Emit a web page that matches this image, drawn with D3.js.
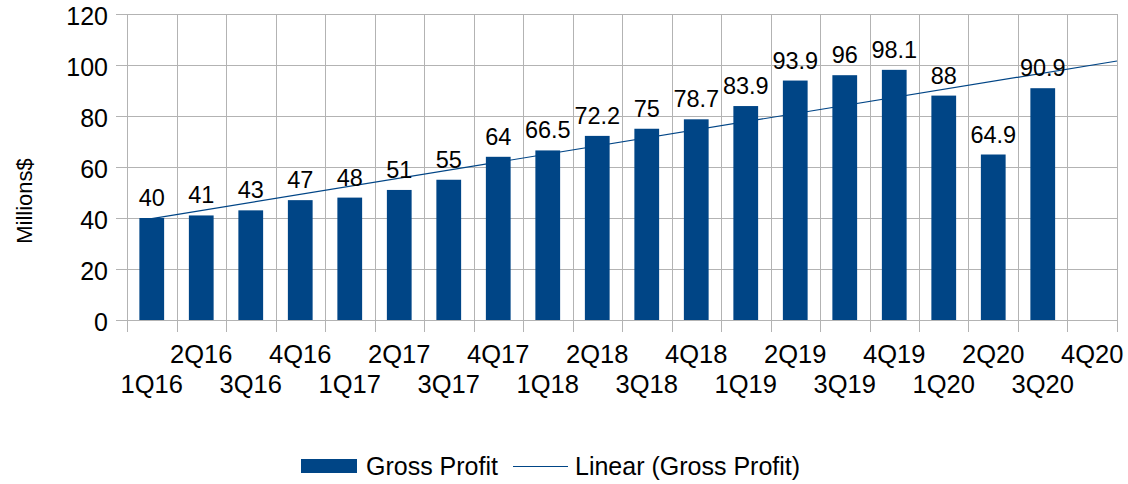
<!DOCTYPE html>
<html><head><meta charset="utf-8">
<script src="https://cdn.jsdelivr.net/npm/d3@7"></script>
<style>body{margin:0;background:#fff}svg{display:block}text{font-family:"Liberation Sans",Arial,sans-serif;fill:#000}</style>
</head><body><svg id="c" width="1128" height="484"></svg>
<script>
const categories = ["1Q16","2Q16","3Q16","4Q16","1Q17","2Q17","3Q17","4Q17","1Q18","2Q18","3Q18","4Q18","1Q19","2Q19","3Q19","4Q19","1Q20","2Q20","3Q20","4Q20"];
const grossProfit = [40,41,43,47,48,51,55,64,66.5,72.2,75,78.7,83.9,93.9,96,98.1,88,64.9,90.9,null];
const yTicks = [0,20,40,60,80,100,120];
const seriesName = "Gross Profit";
const trendName = "Linear (Gross Profit)";
const yTitle = "Millions$";

const svg = d3.select("#c");
const L = 127, R = 1117, T = 14, B = 320;
const blue = "#004586", grid = "#b3b3b3";

const x = d3.scaleBand().domain(categories).range([L, R]).paddingInner(0.5).paddingOuter(0.25);
const xi = d3.scaleLinear().domain([0.5, categories.length + 0.5]).range([L, R]);
const y = d3.scaleLinear().domain([0, 120]).range([B, T]);

// horizontal grid + ticks
svg.append("g").selectAll("line").data(yTicks).join("line")
  .attr("x1", L - 11).attr("x2", R).attr("y1", d => Math.round(y(d)) + 0.5).attr("y2", d => Math.round(y(d)) + 0.5)
  .attr("stroke", grid).attr("stroke-width", 1);
// vertical grid + ticks
const bounds = d3.range(categories.length + 1);
svg.append("g").selectAll("line").data(bounds).join("line")
  .attr("x1", d => Math.round(xi(d + 0.5)) + 0.5).attr("x2", d => Math.round(xi(d + 0.5)) + 0.5)
  .attr("y1", T).attr("y2", B + 12).attr("stroke", grid).attr("stroke-width", 1);

// y labels
svg.append("g").selectAll("text").data(yTicks).join("text")
  .attr("x", 108).attr("y", d => y(d) + 10.5).attr("text-anchor", "end")
  .style("font-size", "25px").text(d => d);

// x labels (staggered)
svg.append("g").selectAll("text").data(categories).join("text")
  .attr("x", d => x(d) + x.bandwidth() / 2)
  .attr("y", (d, i) => i % 2 === 0 ? 393 : 363)
  .attr("text-anchor", "middle").style("font-size", "25.5px").text(d => d);

// y title
svg.append("text").attr("transform", "translate(32,201) rotate(-90)")
  .attr("text-anchor", "middle").style("font-size", "22px").text(yTitle);

// trend line (least squares over the series)
const pts = grossProfit.map((v, i) => [i + 1, v]).filter(p => p[1] != null);
const mx = d3.mean(pts, p => p[0]), my = d3.mean(pts, p => p[1]);
const slope = d3.sum(pts, p => (p[0] - mx) * (p[1] - my)) / d3.sum(pts, p => (p[0] - mx) ** 2);
const icpt = my - slope * mx;
const tx = [1, categories.length + 0.5];
svg.append("path")
  .attr("d", d3.line().x(d => xi(d)).y(d => y(icpt + slope * d))(tx))
  .attr("fill", "none").attr("stroke", blue).attr("stroke-width", 1.2);

// bars
const data = categories.map((c, i) => ({c, v: grossProfit[i]})).filter(d => d.v != null);
svg.append("g").selectAll("rect").data(data).join("rect")
  .attr("x", d => x(d.c)).attr("width", x.bandwidth())
  .attr("y", d => y(d.v)).attr("height", d => y(0) - y(d.v)).attr("fill", blue);

// data labels
svg.append("g").selectAll("text").data(data).join("text")
  .attr("x", d => x(d.c) + x.bandwidth() / 2).attr("y", d => y(d.v) - 12)
  .attr("text-anchor", "middle").style("font-size", "23.5px").text(d => d.v);

// legend
svg.append("rect").attr("x", 301).attr("y", 459).attr("width", 56).attr("height", 14).attr("fill", blue);
svg.append("text").attr("x", 366).attr("y", 474.5).style("font-size", "25px").text(seriesName);
svg.append("line").attr("x1", 513).attr("x2", 568).attr("y1", 466.5).attr("y2", 466.5).attr("stroke", blue).attr("stroke-width", 1.2);
svg.append("text").attr("x", 575).attr("y", 474.5).style("font-size", "25px").text(trendName);
</script></body></html>
